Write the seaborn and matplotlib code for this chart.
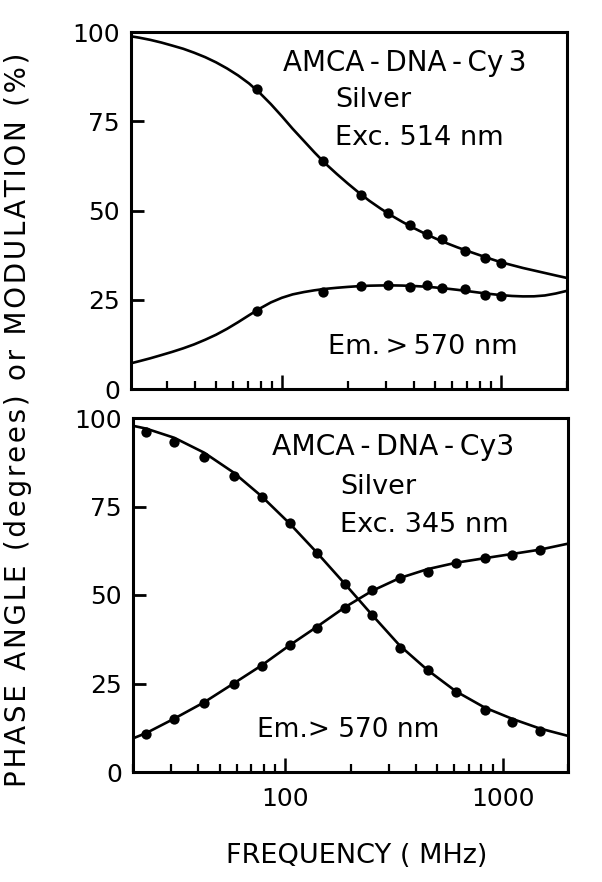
import numpy as np
import pandas as pd
import matplotlib
matplotlib.use("Agg")
import matplotlib.pyplot as plt
import seaborn as sns
from matplotlib.ticker import LogLocator, FixedLocator, NullFormatter

# ---------------- data ----------------
# Top panel: Exc. 514 nm  (measured points)
top_freq = [77, 154, 230, 306, 383, 459, 536, 688, 845, 1000]
top_mod = [83.9, 64.0, 54.4, 49.4, 45.8, 43.4, 41.9, 38.6, 36.6, 35.4]
top_phase = [21.8, 27.3, 28.9, 29.1, 28.6, 29.1, 28.2, 27.9, 26.3, 26.0]

# Top panel fitted curves
top_fit_freq = [20.5, 22.4, 25.1, 28.2, 31.6, 35.5, 39.8, 44.7, 50.1, 56.2, 63.1,
                70.8, 79.4, 89.1, 100, 112, 126, 141, 158, 178, 200, 224, 251,
                282, 316, 355, 398, 447, 501, 562, 631, 708, 794, 891, 1000,
                1122, 1259, 1413, 1585, 1778, 2000]
top_mod_fit = [98.8, 98.4, 97.8, 97.05, 96.2, 95.3, 94.2, 92.95, 91.5, 89.8, 87.85,
               85.6, 82.9, 79.8, 76.4, 72.9, 69.5, 66.25, 63.15, 60.25, 57.55,
               55.05, 52.7, 50.55, 48.6, 46.8, 45.15, 43.6, 42.2, 40.9, 39.7,
               38.6, 37.55, 36.5, 35.5, 34.7, 33.9, 33.2, 32.5, 31.8, 31.1]
top_phase_fit = [7.2, 7.8, 8.6, 9.5, 10.4, 11.4, 12.5, 13.8, 15.2, 16.85, 18.7,
                 20.65, 22.55, 24.25, 25.55, 26.5, 27.15, 27.65, 28.05, 28.35,
                 28.6, 28.8, 28.94, 29.0, 29.02, 28.97, 28.86, 28.68, 28.44,
                 28.14, 27.79, 27.4, 27.0, 26.63, 26.3, 26.06, 25.94, 25.96,
                 26.2, 26.75, 27.5]

# Bottom panel: Exc. 345 nm  (measured points)
bot_freq = [23, 31, 42.5, 58, 78, 105, 140, 188, 252, 337, 452, 610, 828, 1110, 1482]
bot_mod = [96.0, 93.1, 89.1, 83.6, 77.7, 70.2, 61.9, 53.1, 44.4, 35.1, 28.9, 22.5,
           17.4, 14.2, 11.5]
bot_phase = [10.8, 15.0, 19.6, 25.0, 30.0, 35.8, 40.7, 46.3, 51.4, 54.8, 56.6, 58.9,
             60.5, 61.4, 62.8]

# Bottom panel fitted curves
bot_fit_freq = [20, 23, 31, 42.5, 58, 78, 105, 140, 188, 252, 337, 452, 610, 828,
                1110, 1482, 2000]
bot_mod_fit = [97.8, 97.0, 94.4, 90.2, 84.6, 77.9, 70.2, 62.0, 53.2, 44.3, 35.7,
               28.8, 22.8, 18.2, 15.0, 12.3, 10.2]
bot_phase_fit = [9.5, 11.0, 15.1, 19.7, 25.0, 30.1, 35.8, 41.0, 46.5, 51.2, 54.8,
                 57.3, 59.1, 60.4, 61.6, 62.8, 64.5]

y_ticks = [0, 25, 50, 75, 100]
x_major = [100, 1000]
x_tick_labels = ["100", "1000"]

# ---------------- styling ----------------
sns.set_style("ticks")
plt.rcParams["font.family"] = ["DejaVu Sans"]
for k in ["text.color", "axes.labelcolor", "xtick.color", "ytick.color",
          "axes.edgecolor"]:
    plt.rcParams[k] = "black"

W, H = 602, 882
fig = plt.figure(figsize=(W / 100, H / 100), dpi=100)
fig.patch.set_facecolor("white")

def frac_box(l, r, t, b):
    return [l / W, 1 - b / H, (r - l) / W, (b - t) / H]

ax1 = fig.add_axes(frac_box(131, 567, 32, 389))
ax2 = fig.add_axes(frac_box(133, 568, 418, 772))

LW = 1.9
MS = 55

def draw(ax, fx, fy1, fy2, px, py1, py2, xlim):
    sns.lineplot(x=fx, y=fy1, ax=ax, color="black", lw=LW, estimator=None)
    sns.lineplot(x=fx, y=fy2, ax=ax, color="black", lw=LW, estimator=None)
    sns.scatterplot(x=px, y=py1, ax=ax, color="black", s=MS, linewidth=0, zorder=5)
    sns.scatterplot(x=px, y=py2, ax=ax, color="black", s=MS, linewidth=0, zorder=5)
    ax.set_xscale("log")
    ax.set_xlim(*xlim)
    ax.set_ylim(0, 100)
    ax.set_yticks(y_ticks)
    ax.set_yticklabels([str(v) for v in y_ticks])
    ax.xaxis.set_major_locator(FixedLocator(x_major))
    ax.xaxis.set_minor_locator(LogLocator(base=10, subs=np.arange(2, 10), numticks=20))
    ax.xaxis.set_minor_formatter(NullFormatter())
    ax.tick_params(axis="y", which="major", direction="in", length=9, width=2,
                   labelsize=18, pad=8, right=False, colors="black")
    ax.tick_params(axis="x", which="major", direction="in", length=10, width=1.8,
                   labelsize=18, pad=11, top=False, colors="black")
    ax.tick_params(axis="x", which="minor", direction="in", length=5.5, width=1.6,
                   top=False, colors="black")
    for s in ax.spines.values():
        s.set_linewidth(2.2)
        s.set_color("black")
        s.set_visible(True)
    ax.set_xlabel("")
    ax.set_ylabel("")
    ax.set_facecolor("white")

draw(ax1, top_fit_freq, top_mod_fit, top_phase_fit,
     top_freq, top_mod, top_phase, (20.5, 2000))
ax1.set_xticklabels([])

draw(ax2, bot_fit_freq, bot_mod_fit, bot_phase_fit,
     bot_freq, bot_mod, bot_phase, (20, 2000))
ax2.set_xticklabels(x_tick_labels)

# ---------------- annotations ----------------
ts = "\u2009"
hs = "\u200a"

def track(s, sep):
    return sep.join(list(s))

def ftext(x, y, s, size=19.5, **kw):
    fig.text(x / W, 1 - y / H, s, ha="left", va="center", fontsize=size,
             color="black", **kw)

ftext(283, 63, f"AMCA{ts}-{ts}DNA{ts}-{ts}Cy{ts}3", size=20)
ftext(335, 100, "Silver")
ftext(335, 138, "Exc. 514 nm")
ftext(328, 347, f"Em.{ts}>{ts}570 nm")

ftext(272, 447, f"AMCA{ts}-{ts}DNA{ts}-{ts}Cy3", size=20.3)
ftext(340, 487, "Silver")
ftext(340, 525, "Exc. 345 nm")
ftext(257, 730, "Em.> 570 nm", size=19)

fig.text(18 / W, 1 - 420 / H, track("PHASE ANGLE (degrees) or MODULATION (%)", hs),
         rotation=90, ha="center", va="center", fontsize=20, color="black")
fig.text(357 / W, 1 - 856 / H, "FREQUENCY ( MHz)", ha="center",
         va="center", fontsize=19.5, color="black")

fig.savefig("out.png", dpi=100, facecolor="white")
